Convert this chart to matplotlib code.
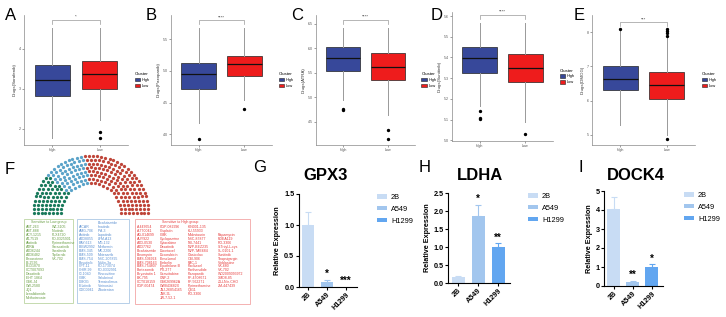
import numpy as np
import matplotlib
matplotlib.use('Agg')
import matplotlib.pyplot as plt
from matplotlib.patches import Patch, Rectangle

plt.rcParams['font.family'] = ['Liberation Sans', 'DejaVu Sans']

W, H = 726, 317

# ---------------- data ----------------
clusters = ['High', 'Low']
box_drugs = ['Drugs(Sorafenib)', 'Drugs(Pazopanib)', 'Drugs(ATRA)', 'Drugs(Sunitinib)', 'Drugs(DMOG)']
box_sig = ['*', '****', '****', '****', '***']
# whislo, q1, med, q3, whishi
box_high = [[1.77, 2.83, 3.23, 3.61, 4.52],
            [4.17, 4.71, 4.95, 5.12, 5.67],
            [4.95, 5.54, 5.81, 6.02, 6.42],
            [5.165, 5.326, 5.399, 5.449, 5.568],
            [5.29, 6.31, 6.63, 7.02, 8.05]]
box_low = [[2.22, 2.99, 3.38, 3.69, 4.52],
           [4.54, 4.92, 5.10, 5.24, 5.67],
           [4.64, 5.36, 5.63, 5.91, 6.42],
           [5.086, 5.283, 5.349, 5.418, 5.568],
           [5.00, 6.05, 6.45, 6.83, 7.85]]
fliers_high = [[], [3.92], [4.77, 4.74], [5.143, 5.106, 5.101], [8.1]]
fliers_low = [[1.93, 1.78], [4.39], [4.34, 4.15], [5.029], [7.9, 7.96, 8.03, 8.1, 4.88]]
box_yticks = [[2, 3, 4], [4.0, 4.5, 5.0, 5.5], [4.5, 5.0, 5.5, 6.0, 6.5],
              [5.0, 5.1, 5.2, 5.3, 5.4, 5.5, 5.6], [5, 6, 7, 8]]

seat_groups = ['Sensitive to Low group', 'Both', 'Sensitive to High group']
seat_counts = [64, 61, 142]

low_col1 = ['ABT-263', 'ABT-888', 'ACY-1215', 'AT-7519', 'Afatinib', 'ATRA', 'AZD6244',
            'AZD6482', 'Bexarotene', 'BI-2536', 'BI-D1870', 'CCT007093', 'Dasatinib',
            'EHT 1864', 'GSK-J4', 'GW-2580', 'JQ1', 'Lenalidomide', 'Methotrexate']
low_col2 = ['WZ-3105', 'Nilotinib', 'PLX4720', 'PD-0325901', 'Pyrimethamine',
            'Saracatinib', 'Sorafenib', 'Tipifarnib', 'VX-702']
both_col1 = ['AICAR', 'AMG-706', 'Axitinib', 'AZD8055', 'BAY-613', 'BIBW2992',
             'BMS-345', 'BMS-509', 'BMS-754', 'Bosutinib', 'CPT-11',
             'CHIR-99', 'CI-1040', 'CMK', 'DMOG', 'Erlotinib', 'GDC0941']
both_col2 = ['Bicalutamide', 'Imatinib', 'IPA-3', 'Lapatinib', 'LFM-A13', 'MG-132',
             'Metformin', 'MK-2206', 'Motesanib', 'NSC-207895', 'Nutlin-3a', 'PD-173074',
             'PD-0332991', 'Roscovitine', 'Salubrinal', 'Temsirolimus', 'Vorinostat', 'Zibotentan']
high_col1 = ['A-443654', 'A-770041', 'AG-014699', 'AUY922', 'AZD-0530', 'AZD7762',
             'Bicalutamide', 'Bleomycin', 'BMS-536924', 'BMS-708163', 'BMS-754807',
             'Bortezomib', 'Bryostatin 1', 'BX-795', 'CCT018159', 'CGP-60474']
high_col2 = ['CGP-082996', 'Cisplatin', 'CMK', 'Cyclopamine', 'Cytarabine', 'Dasatinib',
             'Docetaxel', 'Doxorubicin', 'Elesclomol', 'Embelin', 'Epothilone B', 'FTI-277',
             'Gemcitabine', 'GNF-2', 'GSK269962A', 'GW843682X', 'JNJ-26854165',
             'JNK-9L', 'JW-7-52-1']
high_col3 = ['KIN001-135', 'KU-55933', 'Midostaurin', 'NSC-87877', 'NU-7441', 'NVP-BEZ235',
             'NVP-TAE684', 'Obatoclax', 'OSI-906', 'PAC-1', 'Paclitaxel',
             'Parthenolide', 'Pazopanib', 'PF-4708671', 'PF-562271', 'Pyrimethamine',
             'QS11', 'RO-3306']
high_col4 = ['Rapamycin', 'RDEA119', 'RO-3306', 'S-Trityl-L-cys', 'SL-0101-1',
             'Sunitinib', 'Thapsigargin', 'Vinblastine', 'VX-680', 'VX-702', 'WO2009093972',
             'XMD8-85', 'Z-LLNle-CHO', 'ZM-447439']

cells = ['2B', 'A549', 'H1299']
genes = ['GPX3', 'LDHA', 'DOCK4']
expr = [[1.0, 0.08, 0.005], [0.17, 1.86, 0.99], [4.04, 0.23, 1.02]]
expr_err = [[0.21, 0.04, 0.0], [0.03, 0.32, 0.11], [0.66, 0.04, 0.13]]
expr_sig = [['', '*', '***'], ['', '*', '**'], ['', '**', '*']]
bar_yticks = [[0, 0.5, 1.0, 1.5], [0, 0.5, 1.0, 1.5, 2.0, 2.5], [0, 1, 2, 3, 4, 5]]


def rect(x0, y0, x1, y1):
    return [x0 / W, 1 - y1 / H, (x1 - x0) / W, (y1 - y0) / H]


fig = plt.figure(figsize=(W / 100, H / 100), dpi=100)

# ---------------- A-E boxplots ----------------
box_pos = [(24, 15, 128, 145), (171, 15, 272, 145), (316, 15, 415, 145),
           (452, 12, 553, 141), (592, 15, 695, 145)]
box_ylim = [(1.6, 4.85), (3.83, 5.88), (4.03, 6.68), (4.996, 5.62), (4.7, 8.5)]
box_colors = ['#37489a', '#ee1c1c']
letters = 'ABCDE'
letter_x = [5, 146, 291, 431, 574]

for i in range(5):
    ax = fig.add_axes(rect(*box_pos[i]))
    stats = []
    for vals, fl, lab in [(box_high[i], fliers_high[i], 'High'), (box_low[i], fliers_low[i], 'Low')]:
        stats.append(dict(whislo=vals[0], q1=vals[1], med=vals[2], q3=vals[3],
                          whishi=vals[4], fliers=fl, label=lab))
    bp = ax.bxp(stats, positions=[1, 2], widths=0.75, patch_artist=True, showcaps=False,
                boxprops=dict(linewidth=0.5, edgecolor='#222222'),
                medianprops=dict(color='#111111', linewidth=0.9),
                whiskerprops=dict(color='#999999', linewidth=0.7),
                flierprops=dict(marker='o', markersize=1.4, markerfacecolor='black',
                                markeredgecolor='black'))
    for patch, c in zip(bp['boxes'], box_colors):
        patch.set_facecolor(c)
    ax.set_xlim(0.4, 2.6)
    ax.set_ylim(*box_ylim[i])
    ax.set_yticks(box_yticks[i])
    ax.tick_params(labelsize=2.6, length=1.2, width=0.4, colors='#555555', pad=1)
    for s in ['top', 'right']:
        ax.spines[s].set_visible(False)
    for s in ['left', 'bottom']:
        ax.spines[s].set_color('#888888')
        ax.spines[s].set_linewidth(0.5)
    ax.set_ylabel(box_drugs[i], fontsize=3.2, color='#333333', labelpad=1.5)
    # significance bracket
    px = (box_ylim[i][1] - box_ylim[i][0]) / (box_pos[i][3] - box_pos[i][1])
    top = max(box_high[i][4], box_low[i][4]) + 8 * px
    ax.plot([1, 1, 2, 2], [top - 4 * px, top, top, top - 4 * px], color='#999999', lw=0.5)
    ax.text(1.5, top + 1 * px, box_sig[i], ha='center', va='bottom', fontsize=3.2, color='#333333')
    handles = [Patch(facecolor=box_colors[k], edgecolor='#222222', linewidth=0.4, label=clusters[k])
               for k in range(2)]
    lg = ax.legend(handles=handles, title='Cluster', loc='center left', bbox_to_anchor=(1.03, 0.5),
                   frameon=False, fontsize=2.8, title_fontsize=3.2, handlelength=1.3,
                   handleheight=1.0, handletextpad=0.5, labelspacing=0.4)
    lg._legend_box.align = 'left'
    fig.text(letter_x[i] / W, 1 - 8 / H, letters[i], fontsize=12, va='top', ha='left')

# ---------------- F parliament ----------------
axf = fig.add_axes(rect(0, 150, 262, 317))
axf.set_xlim(0, 262)
axf.set_ylim(317, 150)
axf.axis('off')
fig.text(5 / W, 1 - 162 / H, 'F', fontsize=12, va='top', ha='left')

cx, cy = 91, 213
radii = 30 + 3.9 * np.arange(8)
pts = []
for r in radii:
    n = int(round(np.pi * r / 4.1))
    ang = np.linspace(np.pi, 0, n)
    for a in ang:
        pts.append((np.pi - a, cx + r * np.cos(a), cy - r * np.sin(a)))
pts.sort(key=lambda p: p[0])
pts = np.array(pts)
seat_colors = ['#1a7a5c', '#5ba3c9', '#bf4539']
tot = len(pts)
bounds = np.cumsum([0] + seat_counts) / sum(seat_counts) * tot
bounds = np.round(bounds).astype(int)
for k in range(3):
    seg = pts[bounds[k]:bounds[k + 1]]
    axf.scatter(seg[:, 1], seg[:, 2], s=5.5, color=seat_colors[k], linewidths=0)

axf.add_patch(Rectangle((24, 219), 49, 84, fill=False, edgecolor='#bcd5a2', lw=0.6))
axf.add_patch(Rectangle((77, 219), 52, 84, fill=False, edgecolor='#abc8e4', lw=0.6))
axf.add_patch(Rectangle((135, 219), 115, 85, fill=False, edgecolor='#f2a5a5', lw=0.6))

fs = 2.5
row0, dy = 227, 3.95
green_t, blue_t, red_t = '#6a9e45', '#5b8fd0', '#e63b3b'
axf.text(48.5, 222, 'Sensitive to Low group', fontsize=fs, color=green_t, ha='center', va='center')
axf.text(180, 222, 'Sensitive to High group', fontsize=fs, color=red_t, ha='center', va='center')
for col, x, start, c in [(low_col1, 26, 0, green_t), (low_col2, 52, 0, green_t),
                         (both_col1, 79, 0, blue_t), (both_col2, 98, -1, blue_t),
                         (high_col1, 137, 0, red_t), (high_col2, 160, 0, red_t),
                         (high_col3, 188, 0, red_t), (high_col4, 218, 2, red_t)]:
    for j, name in enumerate(col):
        axf.text(x, row0 + (start + j) * dy, name, fontsize=fs, color=c, ha='left', va='center')

# ---------------- G-I bar charts ----------------
bar_colors = ['#c8dcf4', '#a2c6ee', '#62a6f0']
bar_pos = [(298.5, 194, 357, 287), (448, 193, 510, 283), (604, 191, 663, 286)]
bar_ylim = [1.5, 2.5, 5]
gl = [(253, 160, 'G'), (419, 160, 'H'), (578, 160, 'I')]
title_x = [326, 480, 636]
leg_xy = [(377, 194), (528, 193), (684, 192)]

for i in range(3):
    ax = fig.add_axes(rect(*bar_pos[i]))
    x = np.arange(3)
    ax.bar(x, expr[i], width=0.65, color=bar_colors)
    for k in range(3):
        if expr_err[i][k] > 0:
            ax.errorbar(x[k], expr[i][k], yerr=[[0], [expr_err[i][k]]], color=bar_colors[k],
                        capsize=2, elinewidth=0.8, capthick=0.8)
        if expr_sig[i][k]:
            ax.annotate(expr_sig[i][k], (x[k], expr[i][k] + expr_err[i][k]), xytext=(0, 0.5),
                        textcoords='offset points', ha='center', va='bottom',
                        fontsize=7, fontweight='bold')
    ax.set_xlim(-0.5, 2.6)
    ax.set_ylim(0, bar_ylim[i])
    ax.set_yticks(bar_yticks[i])
    if i < 2:
        ax.set_yticklabels(['%.1f' % v for v in bar_yticks[i]])
    ax.set_xticks(x)
    ax.set_xticklabels(cells, rotation=45, ha='right', rotation_mode='anchor')
    ax.tick_params(labelsize=5.2, length=2, width=0.8, pad=1)
    for lab in ax.get_xticklabels() + ax.get_yticklabels():
        lab.set_fontweight('bold')
    for s in ['top', 'right']:
        ax.spines[s].set_visible(False)
    for s in ['left', 'bottom']:
        ax.spines[s].set_linewidth(0.8)
    ax.set_ylabel('Relative Expression', fontsize=5.2, fontweight='bold', labelpad=2)
    fig.text(title_x[i] / W, 1 - 176 / H, genes[i], fontsize=12, fontweight='bold',
             ha='center', va='center')
    fig.text(gl[i][0] / W, 1 - gl[i][1] / H, gl[i][2], fontsize=12, va='top', ha='left')
    handles = [Patch(facecolor=bar_colors[k], label=cells[k]) for k in range(3)]
    fig.legend(handles=handles, loc='upper left',
               bbox_to_anchor=(leg_xy[i][0] / W, 1 - leg_xy[i][1] / H),
               frameon=False, fontsize=5.3, handlelength=1.3, handleheight=0.55,
               handletextpad=0.6, labelspacing=0.65, borderaxespad=0, borderpad=0)

fig.savefig('out.png', dpi=100)
